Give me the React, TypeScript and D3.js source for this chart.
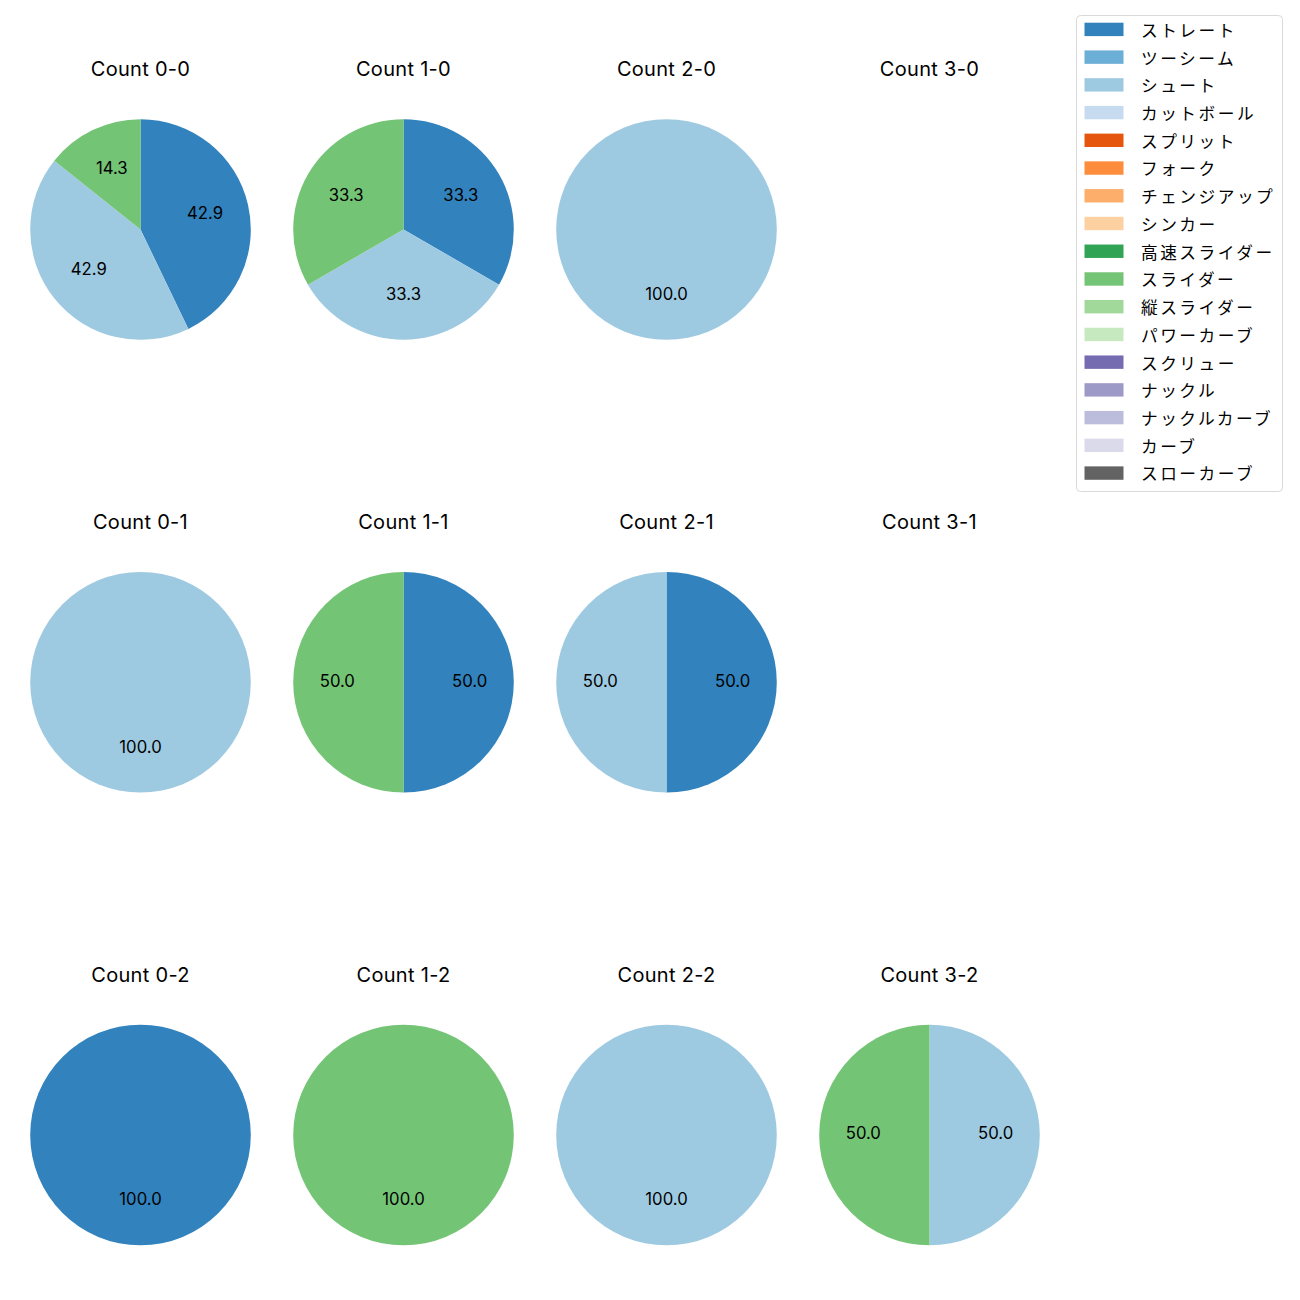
import React from "react";
import * as d3 from "d3";

const pitchTypes = [
  "ストレート", "ツーシーム", "シュート", "カットボール", "スプリット", "フォーク",
  "チェンジアップ", "シンカー", "高速スライダー", "スライダー", "縦スライダー",
  "パワーカーブ", "スクリュー", "ナックル", "ナックルカーブ", "カーブ", "スローカーブ",
];
const pitchColors = [
  "#3182bd", "#6baed6", "#9ecae1", "#c6dbef", "#e6550d", "#fd8d3c", "#fdae6b", "#fdd0a2",
  "#31a354", "#74c476", "#a1d99b", "#c7e9c0", "#756bb1", "#9e9ac8", "#bcbddc", "#dadaeb", "#636363",
];
// rows: strikes 0..2, cols: balls 0..3
const countLabels = [
  ["Count 0-0", "Count 1-0", "Count 2-0", "Count 3-0"],
  ["Count 0-1", "Count 1-1", "Count 2-1", "Count 3-1"],
  ["Count 0-2", "Count 1-2", "Count 2-2", "Count 3-2"],
];
// pitch counts per count, [ストレート, シュート, スライダー]
const shownPitches = ["ストレート", "シュート", "スライダー"];
const countValues = [
  [[3, 3, 1], [1, 1, 1], [0, 1, 0], [0, 0, 0]],
  [[0, 1, 0], [1, 0, 1], [1, 1, 0], [0, 0, 0]],
  [[1, 0, 0], [0, 0, 1], [0, 1, 0], [0, 1, 1]],
];

const FONT = "Inter, 'Noto Sans CJK JP', sans-serif";
const JFONT = "'Noto Sans CJK JP', sans-serif";

function Pie({ cx, cy, r, values, title }: { cx: number; cy: number; r: number; values: number[]; title: string }) {
  const data = shownPitches.map((p, i) => ({ name: p, value: values[i] })).filter((d) => d.value > 0);
  const total = d3.sum(data, (d) => d.value);
  const pie = d3.pie<any>().value((d) => d.value).sort(null).startAngle(0).endAngle(2 * Math.PI);
  const arc = d3.arc<any>().innerRadius(0).outerRadius(r);
  const labelArc = d3.arc<any>().innerRadius(r * 0.6).outerRadius(r * 0.6);
  const arcs = total > 0 ? pie(data) : [];
  return (
    <g>
      <text x={cx} y={cy - 153.5} textAnchor="middle" fontSize={20} letterSpacing={0.3} fontFamily={FONT} fill="#000">
        {title}
      </text>
      <g transform={`translate(${cx},${cy})`}>
        {arcs.map((a, i) => (
          <path key={i} d={arc(a) as string} fill={pitchColors[pitchTypes.indexOf(a.data.name)]} />
        ))}
        {arcs.map((a, i) => {
          const [x, y] = labelArc.centroid(a);
          return (
            <text key={"t" + i} x={x} y={y + 4.3} textAnchor="middle" fontSize={16.7} fontFamily={FONT} fill="#000">
              {((a.data.value / total) * 100).toFixed(1)}
            </text>
          );
        })}
      </g>
    </g>
  );
}

export default function App() {
  const colX = d3.scaleLinear().domain([0, 3]).range([140.5, 929.5]);
  const rowY = d3.scaleLinear().domain([0, 2]).range([229.5, 1135]);
  const legendY = d3.scaleLinear().domain([0, 1]).range([29.4, 29.4 + 27.73]);
  return (
    <svg width={1300} height={1300} style={{ position: "absolute", left: 0, top: 0, background: "#fff" }}>
      <rect width={1300} height={1300} fill="#fff" />
      {countLabels.map((row, ri) =>
        row.map((lab, ci) => (
          <Pie key={lab} cx={colX(ci)} cy={rowY(ri)} r={110.3} values={countValues[ri][ci]} title={lab} />
        ))
      )}
      <g>
        <rect x={1076.5} y={15.5} width={206} height={476} rx={4} fill="#fff" stroke="#d9d9d9" strokeWidth={1} />
        {pitchTypes.map((p, i) => (
          <g key={p}>
            <rect x={1084.5} y={legendY(i) - 6.7} width={39} height={13.4} fill={pitchColors[i]} />
            <text x={1141} y={legendY(i) + 7.4} fontSize={16.7} letterSpacing={2.5} fontFamily={JFONT} fill="#000">
              {p}
            </text>
          </g>
        ))}
      </g>
    </svg>
  );
}
